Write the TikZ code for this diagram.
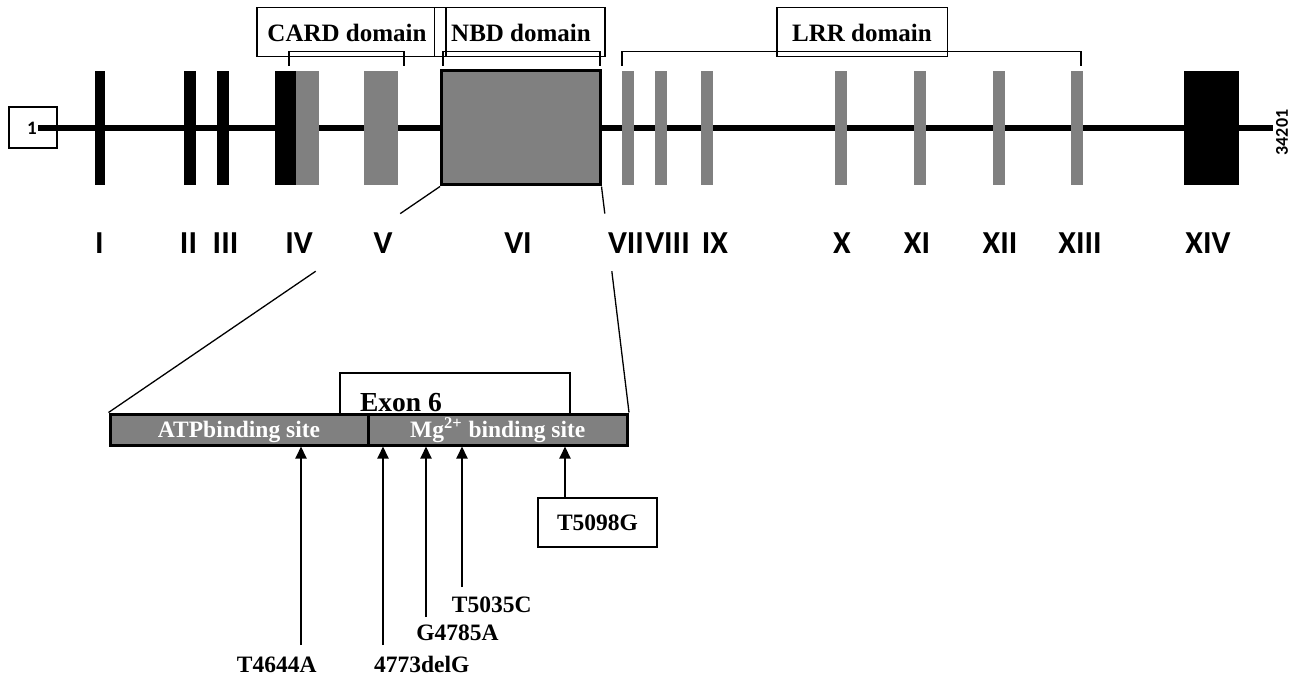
\documentclass[tikz,border=0pt]{standalone}
\usepackage{fontspec}
\setmainfont{Liberation Serif}
\newfontfamily\calfont{Carlito}
\usetikzlibrary{arrows.meta,calc}

\tikzset{
  exon/.style={inner sep=0pt,minimum height=57pt},
  numeral/.style={anchor=base,font=\calfont\bfseries\fontsize{16}{18}\selectfont},
  domainbox/.style={draw,line width=0.65pt,inner sep=0pt,minimum height=24.5pt},
  mutlabel/.style={anchor=base,font=\bfseries\fontsize{11.75}{14}\selectfont},
  sitebox/.style={draw,line width=1.5pt,fill=gray,text=white,inner sep=0pt,minimum height=15.5pt,
    text height=8pt,text depth=0pt,font=\bfseries\fontsize{11.75}{14}\selectfont}
}

\begin{document}
\begin{tikzpicture}[x=0.5pt,y=-0.5pt,line join=miter,>={Triangle[length=6pt,width=5.5pt]}]
\useasboundingbox (0,0) rectangle (1294,679);
% gene backbone
\node[draw,line width=0.65pt,fill=white,minimum width=24pt,minimum height=20.5pt,inner sep=0pt] (startbox) at (33,127.5) {};
\node[font=\calfont\bfseries\fontsize{9.5}{10}\selectfont] (startnum) at (32,128) {1};
\coordinate (bbstart) at (38,128);
\coordinate (bbend) at (1273,128);
\draw[line width=3pt] (bbstart) -- (bbend);
\node[rotate=90,font=\calfont\bfseries\fontsize{9}{10}\selectfont] (endnum) at (1282,132.5) {34201};
% exons
\node[exon,fill=black,minimum width=5pt] (ex1) at (99.5,128) {};
\node[exon,fill=black,minimum width=6pt] (ex2) at (190,128) {};
\node[exon,fill=black,minimum width=5.75pt] (ex3) at (222.75,128) {};
\node[exon,fill=black,minimum width=10.75pt] (ex4a) at (285.25,128) {};
\node[exon,fill=gray,minimum width=11.5pt] (ex4b) at (307.5,128) {};
\node[exon,fill=gray,minimum width=17pt] (ex5) at (381,128) {};
\node[exon,fill=gray,draw,line width=1.5pt,minimum width=79.25pt] (ex6) at (520.75,128) {};
\node[exon,fill=gray,minimum width=6pt] (ex7) at (628,128) {};
\node[exon,fill=gray,minimum width=6pt] (ex8) at (661,128) {};
\node[exon,fill=gray,minimum width=6pt] (ex9) at (707,128) {};
\node[exon,fill=gray,minimum width=6pt] (ex10) at (841,128) {};
\node[exon,fill=gray,minimum width=6pt] (ex11) at (919.5,128) {};
\node[exon,fill=gray,minimum width=6pt] (ex12) at (998.5,128) {};
\node[exon,fill=gray,minimum width=6pt] (ex13) at (1076.5,128) {};
\node[exon,fill=black,minimum width=27.75pt] (ex14) at (1211.25,128) {};
% numerals
\node[numeral] (n1) at (99.5,253) {I};
\node[numeral] (n2) at (188.5,253) {II};
\node[numeral] (n3) at (225.5,253) {III};
\node[numeral] (n4) at (299,253) {IV};
\node[numeral] (n5) at (383,253) {V};
\node[numeral] (n6) at (518,253) {VI};
\node[numeral] (n7) at (626,253) {VII};
\node[numeral] (n8) at (667.5,253) {VIII};
\node[numeral] (n9) at (715,253) {IX};
\node[numeral] (n10) at (842,253) {X};
\node[numeral] (n11) at (917,253) {XI};
\node[numeral] (n12) at (1000,253) {XII};
\node[numeral] (n13) at (1080,253) {XIII};
\node[numeral] (n14) at (1208,253) {XIV};
% domains
\node[domainbox,minimum width=94.5pt] (cardbox) at (351.5,32) {};
\node[domainbox,minimum width=85.25pt] (nbdbox) at (519.75,32) {};
\node[domainbox,minimum width=85.25pt] (lrrbox) at (862.25,32) {};
\node[font=\bfseries\fontsize{12.5}{14}\selectfont,anchor=base] (cardtxt) at (347,42) {CARD domain};
\node[font=\bfseries\fontsize{12.5}{14}\selectfont,anchor=base] (nbdtxt) at (521,42) {NBD domain};
\node[font=\bfseries\fontsize{12.5}{14}\selectfont,anchor=base] (lrrtxt) at (862,42) {LRR domain};
\draw[line width=0.65pt] (289,66) -- (289,51.7) -- (404,51.7) -- (404,66);
\draw[line width=0.65pt] (443,66) -- (443,51.7) -- (600,51.7) -- (600,66);
\draw[line width=0.65pt] (622,66) -- (622,51.7) -- (1081,51.7) -- (1081,66);
% exon 6 detail
\node[draw,line width=0.65pt,minimum width=115pt,minimum height=21pt,inner sep=0pt] (exsix) at (455,394) {};
\node[anchor=base,font=\bfseries\fontsize{13.75}{16}\selectfont] (exsixtxt) at (401,411) {Exon 6};
\node[sitebox,minimum width=129pt] (atp) at (239,429.5) {ATPbinding site};
\node[sitebox,minimum width=129.75pt] (mg) at (497.75,429.5) {Mg\textsuperscript{2+} binding site};
\draw[line width=0.65pt] (ex6.south west) -- ($(ex6.south west)!0.12!(atp.north west)$);
\draw[line width=0.65pt] ($(ex6.south west)!0.375!(atp.north west)$) -- (atp.north west);
\draw[line width=0.65pt] (ex6.south east) -- ($(ex6.south east)!0.12!(mg.north east)$);
\draw[line width=0.65pt] ($(ex6.south east)!0.375!(mg.north east)$) -- (mg.north east);
% mutations
\node[mutlabel] (m1) at (276.7,672) {T4644A};
\node[mutlabel] (m2) at (421.7,672) {4773delG};
\node[mutlabel] (m3) at (457.5,640) {G4785A};
\node[mutlabel] (m4) at (491.7,612) {T5035C};
\node[draw,line width=0.65pt,minimum width=59.5pt,minimum height=24.5pt,inner sep=0pt,
  font=\bfseries\fontsize{11.75}{14}\selectfont] (m5) at (597.5,522.5) {T5098G};
\coordinate (a1) at (301,645);
\coordinate (a2) at (383,645);
\coordinate (a3) at (426,617);
\coordinate (a4) at (462,587);
\coordinate (a5) at (565,498);
\draw[->,line width=1pt] (a1) -- (a1 |- atp.south);
\draw[->,line width=1pt] (a2) -- (a2 |- mg.south);
\draw[->,line width=1pt] (a3) -- (a3 |- mg.south);
\draw[->,line width=1pt] (a4) -- (a4 |- mg.south);
\draw[->,line width=1pt] (a5) -- (a5 |- mg.south);
\end{tikzpicture}
\end{document}
